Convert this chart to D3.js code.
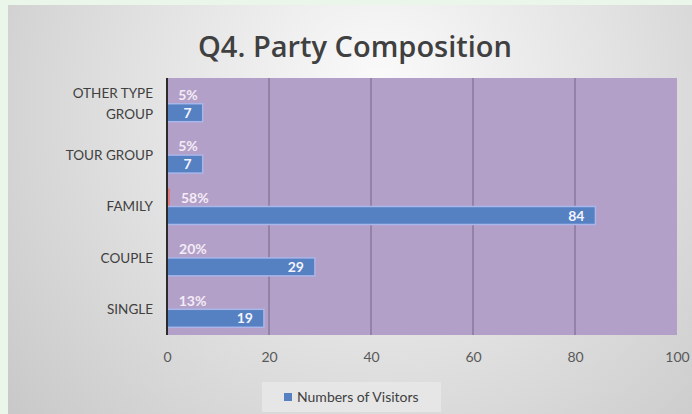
<!DOCTYPE html>
<html><head><meta charset="utf-8">
<script src="https://cdn.jsdelivr.net/npm/d3@7"></script>
<style>html,body{margin:0;padding:0;background:#eaf6ea;}svg{display:block;}</style>
</head><body>
<svg id="c" width="692" height="414"></svg>
<script>
const categories = ["OTHER TYPE GROUP", "TOUR GROUP", "FAMILY", "COUPLE", "SINGLE"];
const categoryLines = [["OTHER TYPE", "GROUP"], ["TOUR GROUP"], ["FAMILY"], ["COUPLE"], ["SINGLE"]];
const visitors = [7, 7, 84, 29, 19];
const percentShare = [0.05, 0.05, 0.58, 0.20, 0.13];
const percentLabels = ["5%", "5%", "58%", "20%", "13%"];
const xTicks = [0, 20, 40, 60, 80, 100];
const seriesName = "Numbers of Visitors";
const titleText = "Q4. Party Composition";

const svg = d3.select("#c");
const defs = svg.append("defs");
const rg = defs.append("radialGradient").attr("id","bg")
  .attr("gradientUnits","userSpaceOnUse").attr("cx",380).attr("cy",120).attr("r",480)
  .attr("fx",380).attr("fy",80);
rg.append("stop").attr("offset","0").attr("stop-color","#fafafa");
rg.append("stop").attr("offset","0.5").attr("stop-color","#e2e2e2");
rg.append("stop").attr("offset","1").attr("stop-color","#c8c8c8");

svg.append("rect").attr("x",0).attr("y",0).attr("width",692).attr("height",414).attr("fill","#eaf6ea");
svg.append("rect").attr("x",8).attr("y",5).attr("width",684).attr("height",409).attr("fill","url(#bg)");

const font = "'Open Sans', Lato, sans-serif";
const font2 = "Lato, 'Open Sans', sans-serif";

svg.append("text").attr("x",355).attr("y",57).attr("text-anchor","middle")
  .attr("font-family",font).attr("font-weight",600).attr("font-size",29)
  .attr("fill","#404040").text(titleText);

const m = {left:167, right:677, top:78, bottom:335};
const x = d3.scaleLinear().domain([0,100]).range([m.left, m.right]);
const y = d3.scaleBand().domain(categories).range([m.top, m.bottom]).paddingInner(0.3).paddingOuter(0.15);
const sub = d3.scaleBand().domain(["pct","num"]).range([0, y.bandwidth()]);

svg.append("rect").attr("x",m.left).attr("y",m.top).attr("width",m.right-m.left).attr("height",m.bottom-m.top)
  .attr("fill","#b3a0c8");

// gridlines
svg.append("g").selectAll("line").data(xTicks.slice(1,-1)).join("line")
  .attr("x1",d=>x(d)).attr("x2",d=>x(d)).attr("y1",m.top).attr("y2",m.bottom)
  .attr("stroke","#7f6e92").attr("stroke-width",1.2);

// x axis
const xAxis = d3.axisBottom(x).tickValues(xTicks).tickSize(0).tickPadding(0);
const gx = svg.append("g").attr("transform",`translate(0,${m.bottom+17})`).call(xAxis);
gx.select(".domain").remove();
gx.selectAll("text").attr("font-family",font2).attr("font-size",14).attr("fill","#595959").attr("dy","0.7em");

// percent bars (tiny)
svg.append("g").selectAll("rect").data(categories).join("rect")
  .attr("x",x(0)).attr("y",(d)=>y(d)+sub("pct"))
  .attr("width",(d,i)=>x(percentShare[i])-x(0)).attr("height",sub.bandwidth())
  .attr("fill","#e07a7a");

// visitor bars
svg.append("g").selectAll("rect").data(categories).join("rect")
  .attr("x",x(0)).attr("y",(d)=>y(d)+sub("num"))
  .attr("width",(d,i)=>x(visitors[i])-x(0)).attr("height",sub.bandwidth())
  .attr("fill","#5580c2").attr("stroke","#a9b6ea").attr("stroke-width",1.5);

// visitor labels
svg.append("g").selectAll("text").data(categories).join("text")
  .attr("x",(d,i)=>x(visitors[i])-11).attr("y",d=>y(d)+sub("num")+sub.bandwidth()/2)
  .attr("dy","0.36em").attr("text-anchor","end")
  .attr("font-family",font2).attr("font-weight","bold").attr("font-size",14).attr("fill","#f4f4ff")
  .text((d,i)=>visitors[i]);

// percent labels
svg.append("g").selectAll("text").data(categories).join("text")
  .attr("x",(d,i)=>x(percentShare[i])+11).attr("y",d=>y(d)+sub("pct")+sub.bandwidth()/2)
  .attr("dy","0.38em").attr("text-anchor","start")
  .attr("font-family",font2).attr("font-weight","bold").attr("font-size",14).attr("fill","#f3ecf6")
  .text((d,i)=>percentLabels[i]);

// y axis
const yAxis = d3.axisLeft(y).tickSize(0).tickPadding(14).tickFormat(()=> "");
const gy = svg.append("g").attr("transform",`translate(${m.left},0)`).call(yAxis);
gy.select(".domain").remove();
gy.selectAll(".tick").each(function(d,i){
  const lines = categoryLines[i];
  const t = d3.select(this).select("text").attr("font-family",font2).attr("font-size",13.5).attr("fill","#404040")
    .attr("x",-14).attr("text-anchor","end").attr("dy",null);
  t.selectAll("tspan").data(lines).join("tspan").attr("x",-14)
    .attr("dy",(s,j)=> j===0 ? `${0.35 - (lines.length-1)*0.75}em` : "1.5em").text(s=>s);
});
svg.append("line").attr("x1",m.left).attr("x2",m.left).attr("y1",m.top).attr("y2",m.bottom)
  .attr("stroke","#2b2b2b").attr("stroke-width",2);

// legend
const lg = svg.append("g");
lg.append("rect").attr("x",262).attr("y",382).attr("width",179).attr("height",30).attr("fill","#e9e9e9").attr("opacity",0.8);
lg.append("rect").attr("x",284).attr("y",393).attr("width",8).attr("height",8).attr("fill","#5580c2");
lg.append("text").attr("x",297).attr("y",397).attr("dy","0.35em").attr("font-family",font2).attr("font-size",14)
  .attr("fill","#404040").text(seriesName);
</script>
</body></html>
